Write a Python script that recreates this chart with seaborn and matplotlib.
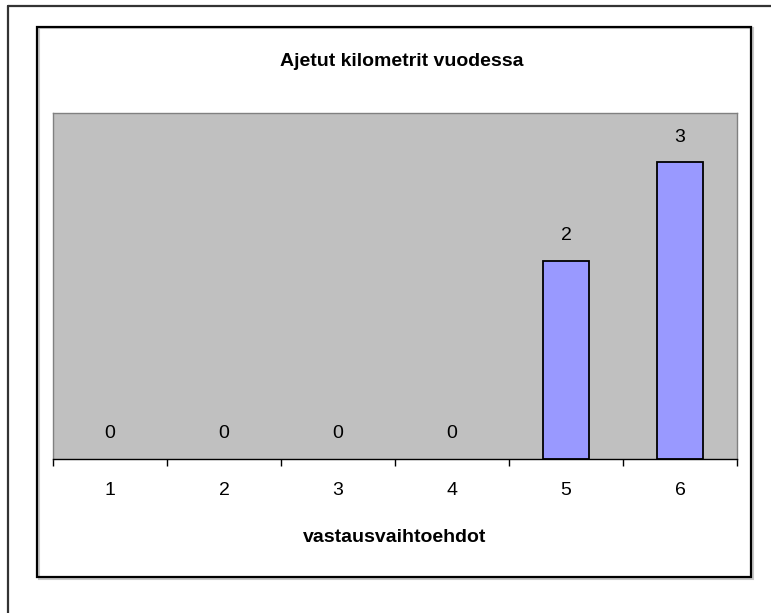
import matplotlib
matplotlib.use("Agg")
import matplotlib.pyplot as plt
from matplotlib.lines import Line2D
from matplotlib.patches import Rectangle
from matplotlib.ticker import FixedLocator, NullFormatter
import seaborn as sns
import pandas as pd

# Chart data
categories = ["1", "2", "3", "4", "5", "6"]
counts = [0, 0, 0, 0, 2, 3]
title = "Ajetut kilometrit vuodessa"
xlabel = "vastausvaihtoehdot"

sns.set_style("white")
plt.rcParams["font.family"] = ["Liberation Sans", "DejaVu Sans"]
plt.rcParams["text.color"] = "black"
plt.rcParams["axes.labelcolor"] = "black"
plt.rcParams["xtick.color"] = "black"

W, H = 771, 613
fig = plt.figure(figsize=(W / 100, H / 100), dpi=100)

def fx(px):
    return px / W

def fy(py):
    return 1 - py / H

# outer page frame (left and top edges)
fig.add_artist(Line2D([fx(8), fx(8)], [fy(613), fy(6)], color="#333333", lw=1.6,
                      transform=fig.transFigure))
fig.add_artist(Line2D([fx(8), fx(771)], [fy(6), fy(6)], color="#333333", lw=1.6,
                      transform=fig.transFigure))
# chart frame with a faint shadow
fig.add_artist(Rectangle((fx(39), fy(579)), fx(751 - 37), (578 - 27) / H,
                         fill=False, edgecolor="#c8c8c8", lw=1.5,
                         transform=fig.transFigure))
fig.add_artist(Rectangle((fx(37), fy(577)), fx(751 - 37), (577 - 27) / H,
                         fill=False, edgecolor="black", lw=1.6,
                         transform=fig.transFigure))

ax = fig.add_axes([fx(53), fy(459), fx(737 - 53), (459 - 113) / H])
ax.set_facecolor("#c0c0c0")

df = pd.DataFrame({"cat": categories, "n": counts})
sns.barplot(data=df, x="cat", y="n", color="#9999ff", edgecolor="black",
            linewidth=1.3, width=0.4, saturation=1, ax=ax)
# empty categories get no outline
for patch in ax.patches:
    if patch.get_height() == 0:
        patch.set_linewidth(0)

ax.set_xlim(-0.5, len(categories) - 0.5)
ax.set_ylim(0, 3.5)
ax.set_yticks([])
ax.set_ylabel("")

for s in ["left", "right", "top"]:
    ax.spines[s].set_color("#808080")
    ax.spines[s].set_linewidth(1.0)
ax.spines["bottom"].set_color("black")
ax.spines["bottom"].set_linewidth(1.0)

ax.tick_params(axis="x", which="major", length=0, labelsize=14, pad=16.5,
               labelcolor="black")
ax.xaxis.set_minor_locator(FixedLocator([i - 0.5 for i in range(len(categories) + 1)]))
ax.xaxis.set_minor_formatter(NullFormatter())
ax.tick_params(axis="x", which="minor", length=5, width=1, color="black",
               direction="out", bottom=True)

ax.set_xlabel(xlabel, fontsize=14, fontweight="bold", color="black")
ax.xaxis.label.set_verticalalignment("baseline")
ax.xaxis.set_label_coords(0.5, -(542 - 459) / 346)

for i, v in enumerate(counts):
    ax.annotate(str(v), (i, v), xytext=(0, 15), textcoords="offset points",
                ha="center", va="baseline", fontsize=14, color="black")

fig.text(fx(402), fy(66), title, ha="center", va="baseline", fontsize=14,
         fontweight="bold", color="black")

fig.savefig("out.png", dpi=100)
